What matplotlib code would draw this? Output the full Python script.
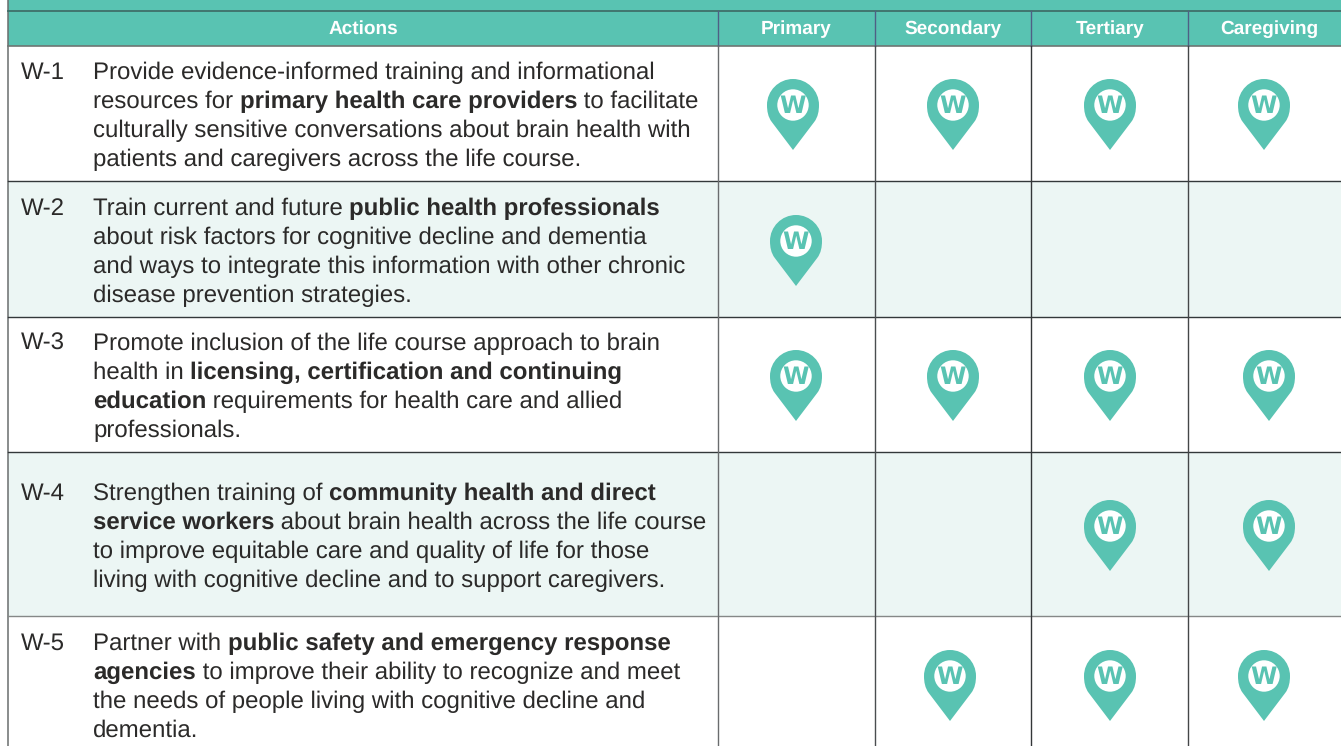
import matplotlib
matplotlib.use("Agg")
import matplotlib.pyplot as plt
from matplotlib.path import Path
from matplotlib.patches import PathPatch, Circle

plt.rcParams['font.family'] = ['Liberation Sans', 'DejaVu Sans']
plt.rcParams['text.hinting'] = 'no_hinting'
plt.rcParams['text.hinting_factor'] = 1

# Table content
row_ids = ['W-1', 'W-2', 'W-3', 'W-4', 'W-5']
columns = ['Primary', 'Secondary', 'Tertiary', 'Caregiving']
actions = [
    ['Provide evidence-informed training and informational',
     'resources for **primary health care providers** to facilitate',
     'culturally sensitive conversations about brain health with',
     'patients and caregivers across the life course.'],
    ['Train current and future **public health professionals**',
     'about risk factors for cognitive decline and dementia',
     'and ways to integrate this information with other chronic',
     'disease prevention strategies.'],
    ['Promote inclusion of the life course approach to brain',
     'health in **licensing, certification and continuing**',
     '**education** requirements for health care and allied',
     'professionals.'],
    ['Strengthen training of **community health and direct**',
     '**service workers** about brain health across the life course',
     'to improve equitable care and quality of life for those',
     'living with cognitive decline and to support caregivers.'],
    ['Partner with **public safety and emergency response**',
     '**agencies** to improve their ability to recognize and meet',
     'the needs of people living with cognitive decline and',
     'dementia.'],
]
marks = [
    [1, 1, 1, 1],
    [1, 0, 0, 0],
    [1, 1, 1, 1],
    [0, 0, 1, 1],
    [0, 1, 1, 1],
]

# Layout in pixels of the picture
TEAL = '#59c3b2'
PALE = '#ecf6f4'
INK = '#2b2a29'
col_edges = [718, 875, 1031.5, 1188, 1341]
row_edges = [46, 181, 317, 452, 616, 746]
row_line_colors = ['#33383a', '#33383a', '#33383a', '#858887']
col_line_colors = ['#6a6c6e', '#4a4d50', '#333638', '#444648']
text_tops = [71, 207, 342, 492, 642]
pin_x = [[793, 953, 1110, 1264],
         [796, 953, 1110, 1264],
         [796, 953, 1110, 1269],
         [796, 950, 1110, 1269],
         [796, 950, 1110, 1264]]
pin_tops = [79, 215, 350, 500, 650]
LINE_H = 29
FONT = 17.27

fig = plt.figure(figsize=(13.41, 7.46), dpi=100)
ax = fig.add_axes([0, 0, 1, 1])
ax.set_xlim(0, 1341)
ax.set_ylim(746, 0)
ax.axis('off')

# Bands
ax.fill_between([8, 1341], 0, 46, color=TEAL, lw=0, zorder=1)
for i in range(5):
    if i % 2 == 1:
        ax.fill_between([8, 1341], row_edges[i], row_edges[i + 1], color=PALE, lw=0, zorder=1)

# Grid lines
ax.plot([8, 8], [0, 746], color='#6a6d6e', lw=1.1, zorder=2)
ax.plot([8, 1341], [11, 11], color='#3f6f69', lw=1.3, zorder=2)
ax.plot([8, 1341], [46, 46], color='#6e7573', lw=1.2, zorder=2)
for y, c in zip(row_edges[1:-1], row_line_colors):
    ax.plot([8, 1341], [y, y], color=c, lw=1.0, zorder=2)
for x, c in zip(col_edges[:-1], col_line_colors):
    ax.plot([x, x], [11, 46], color='#4f5f85', lw=1.0, zorder=2)
    ax.plot([x, x], [46, 746], color=c, lw=1.0, zorder=2)

# Header
ax.text(363, 29, 'Actions', color='white', fontweight='bold', fontsize=13.6, ha='center', va='center')
centers = [796, 953, 1110, 1269]
for cx, name in zip(centers, columns):
    ax.text(cx, 29, name, color='white', fontweight='bold', fontsize=13.6, ha='center', va='center')


# Draws one line of text, switching to bold between ** marks
def draw_line(x, y, line):
    renderer = fig.canvas.get_renderer()
    for i, part in enumerate(line.split('**')):
        if not part:
            continue
        weight = 'bold' if i % 2 else 'normal'
        ax.text(x, y, part, color=INK, fontsize=FONT, va='baseline', zorder=3, fontweight=weight)
        # measure with a stop char so trailing spaces count
        probe = ax.text(0, 0, part + '.', fontsize=FONT, fontweight=weight)
        dot = ax.text(0, 0, '.', fontsize=FONT, fontweight=weight)
        x += probe.get_window_extent(renderer).width - dot.get_window_extent(renderer).width
        probe.remove()
        dot.remove()


for i in range(5):
    ax.text(21, text_tops[i] + 8, row_ids[i], color=INK, fontsize=FONT, va='baseline', zorder=3)
    for j, line in enumerate(actions[i]):
        draw_line(93, text_tops[i] + 8 + j * LINE_H, line)


# Map pin, 52 wide and 71 tall
def pin(cx, top):
    r = 26
    k = 14.3
    cy = top + r
    verts = [(cx, top + 71), (cx - 21.2, top + 43), (cx - 25, top + 38), (cx - r, top + 32), (cx - r, cy),
             (cx - r, cy - k), (cx - k, top), (cx, top),
             (cx + k, top), (cx + r, cy - k), (cx + r, cy),
             (cx + r, top + 32), (cx + 25, top + 38), (cx + 21.2, top + 43), (cx, top + 71), (cx, top + 71)]
    codes = [Path.MOVETO, Path.LINETO, Path.CURVE4, Path.CURVE4, Path.CURVE4,
             Path.CURVE4, Path.CURVE4, Path.CURVE4,
             Path.CURVE4, Path.CURVE4, Path.CURVE4,
             Path.CURVE4, Path.CURVE4, Path.CURVE4, Path.LINETO, Path.CLOSEPOLY]
    ax.add_patch(PathPatch(Path(verts, codes), fc=TEAL, ec='none', zorder=3))
    ax.add_patch(Circle((cx, cy), 15.7, fc='white', ec='none', zorder=4))
    ax.text(cx, cy + 1.0, 'W', color=TEAL, fontweight='bold', fontsize=17, family='DejaVu Sans',
            ha='center', va='center', zorder=5)


for i, row in enumerate(marks):
    for j, on in enumerate(row):
        if on:
            pin(pin_x[i][j], pin_tops[i])

fig.savefig('out.png', dpi=100)
